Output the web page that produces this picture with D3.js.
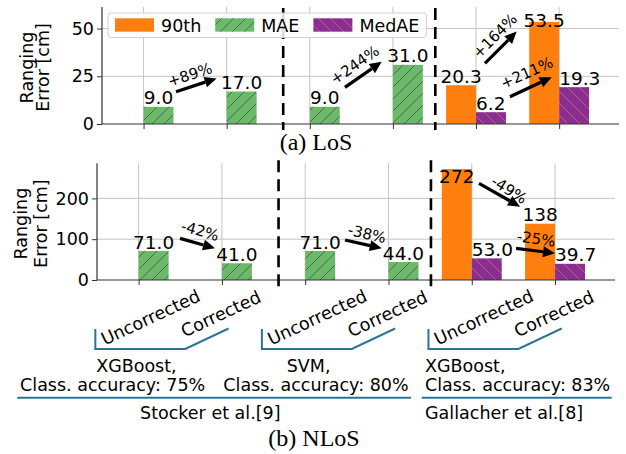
<!DOCTYPE html>
<html><head><meta charset="utf-8">
<script src="https://cdn.jsdelivr.net/npm/d3@7"></script>
<style>
body{margin:0;background:#fff;}
svg{display:block;font-family:"DejaVu Sans",sans-serif;}
</style>
</head><body><svg id="c" width="626" height="454"></svg>
<script>
// ---------- data ----------
const categories = ["Uncorrected","Corrected","Uncorrected","Corrected","Uncorrected","Corrected"];
const seriesNames = ["90th","MAE","MedAE"];
const los90    = [null,null,null,null,20.3,53.5];
const losMAE   = [9.0,17.0,9.0,31.0,null,null];
const losMedAE = [null,null,null,null,6.2,19.3];
const nlos90    = [null,null,null,null,272,138];
const nlosMAE   = [71.0,41.0,71.0,44.0,null,null];
const nlosMedAE = [null,null,null,null,53.0,39.7];
const losTicks = [0,25,50];
const nlosTicks = [0,100,200];
// change annotations (category units, value units)
const losChanges = [
  {text:"+89%",  from:[0.39,16.9], to:[0.879,23.9], at:[0.558,25.7], angle:-18},
  {text:"+244%", from:[2.423,19.2], to:[2.865,32.6], at:[2.543,30.9], angle:-35},
  {text:"+164%", from:[4.107,31.8], to:[4.489,48.4], at:[4.228,46.1], angle:-45},
  {text:"+211%", from:[4.408,14.3], to:[4.91,24.5], at:[4.612,26.7], angle:-24}
];
const nlosChanges = [
  {text:"-42%", from:[0.497,102], to:[0.917,77.7], at:[0.737,120], angle:16},
  {text:"-38%", from:[2.478,98], to:[2.919,77.7], at:[2.742,112.7], angle:13},
  {text:"-49%", from:[4.087,237], to:[4.58,179.7], at:[4.448,220.6], angle:32},
  {text:"-25%", from:[4.532,77.7], to:[5.0,65.4], at:[4.772,100.5], angle:8}
];
const separators = [1.68, 3.51];
const groups = [
  {first:0, second:1, model:"XGBoost,", acc:"Class. accuracy: 75%"},
  {first:2, second:3, model:"SVM,", acc:"Class. accuracy: 80%"},
  {first:4, second:5, model:"XGBoost,", acc:"Class. accuracy: 83%"}
];
const studies = ["Stocker et al.[9]","Gallacher et al.[8]"];

// ---------- styles ----------
const colors = {"90th":"#ff7f0e","MAE":"#6aba69","MedAE":"#8c2d96"};
const FONT = 17.5;

const svg = d3.select("#c");
const defs = svg.append("defs");
function hatch(id, bg, stroke, dir){
  const s = 12;
  const p = defs.append("pattern").attr("id",id).attr("patternUnits","userSpaceOnUse")
    .attr("width",s).attr("height",s);
  p.append("rect").attr("width",s).attr("height",s).attr("fill",bg);
  const d = dir==="/" ? `M-2,2 L2,-2 M0,${s} L${s},0 M${s-2},${s+2} L${s+2},${s-2}`
                      : `M-2,${s-2} L2,${s+2} M0,0 L${s},${s} M${s-2},-2 L${s+2},2`;
  p.append("path").attr("d",d).attr("stroke",stroke).attr("stroke-width",0.9).attr("fill","none");
}
hatch("hMAE", colors.MAE, "#4f5f4f", "/");
hatch("hMed", colors.MedAE, "#b8704e", "\\");
const fillOf = {"90th":colors["90th"], "MAE":"url(#hMAE)", "MedAE":"url(#hMed)"};
const offsetOf = {"90th":-1, "MAE":0, "MedAE":0};
const labelAnchor = {"90th":"middle", "MAE":"middle", "MedAE":"start"};

const fmt = v => v >= 100 ? d3.format(".0f")(v) : d3.format(".1f")(v);

function drawPanel(cfg){
  const g = svg.append("g");
  const x = d3.scaleLinear().domain([-0.5,5.72]).range([cfg.left, cfg.right]);
  const y = d3.scaleLinear().domain([0,cfg.ymax]).range([cfg.bottom, cfg.top]);
  const step = x(1)-x(0);
  const bw = step*0.36;
  // grid
  g.append("g").selectAll("line").data(categories.map((d,i)=>i)).join("line")
    .attr("x1",d=>x(d)).attr("x2",d=>x(d)).attr("y1",cfg.top).attr("y2",cfg.bottom)
    .attr("stroke","#c4c4c4").attr("stroke-width",1);
  g.append("g").selectAll("line").data(cfg.ticks.filter(t=>t>0)).join("line")
    .attr("x1",cfg.left).attr("x2",cfg.right).attr("y1",d=>y(d)).attr("y2",d=>y(d))
    .attr("stroke","#c4c4c4").attr("stroke-width",1);
  // bars
  const series = [["90th",cfg.s90],["MAE",cfg.sMAE],["MedAE",cfg.sMed]];
  const bars = [];
  series.forEach(([name,arr])=>arr.forEach((v,i)=>{ if(v!=null) bars.push({name,i,v}); }));
  g.append("g").selectAll("rect").data(bars).join("rect")
    .attr("x",d=>x(d.i)+offsetOf[d.name]*bw).attr("width",bw)
    .attr("y",d=>y(d.v)).attr("height",d=>y(0)-y(d.v))
    .attr("fill",d=>fillOf[d.name]);
  // value labels
  g.append("g").selectAll("text").data(bars).join("text")
    .attr("x",d=>x(d.i)+offsetOf[d.name]*bw+(labelAnchor[d.name]==="start"?0:bw/2))
    .attr("y",d=>Math.max(y(d.v)-2.5, cfg.top+20))
    .attr("text-anchor",d=>labelAnchor[d.name]).attr("font-size",18.5).attr("fill","#000")
    .text(d=>fmt(d.v));
  // axes
  const ya = d3.axisLeft(y).tickValues(cfg.ticks).tickSize(5).tickPadding(3).tickFormat(d3.format("d"));
  const yg = g.append("g").attr("transform",`translate(${cfg.left},0)`).call(ya);
  yg.select(".domain").remove();
  yg.selectAll("text").attr("font-size",FONT).attr("font-family","DejaVu Sans").attr("fill","#000");
  yg.selectAll("line").attr("stroke","#333");
  g.append("line").attr("x1",cfg.left).attr("x2",cfg.left).attr("y1",cfg.top).attr("y2",cfg.bottom).attr("stroke","#333").attr("stroke-width",1.2);
  const xa = d3.axisBottom(x).tickValues(categories.map((d,i)=>i)).tickSize(5).tickFormat("");
  const xg = g.append("g").attr("transform",`translate(0,${cfg.bottom})`).call(xa);
  xg.select(".domain").remove();
  xg.selectAll("line").attr("stroke","#333");
  g.append("line").attr("x1",cfg.left).attr("x2",cfg.right).attr("y1",cfg.bottom).attr("y2",cfg.bottom).attr("stroke","#333").attr("stroke-width",1.2);
  // separators
  g.append("g").selectAll("line").data(separators).join("line")
    .attr("x1",d=>x(d)).attr("x2",d=>x(d)).attr("y1",cfg.top+cfg.sepTop).attr("y2",cfg.bottom+cfg.sepBottom)
    .attr("stroke","#000").attr("stroke-width",2.6).attr("stroke-dasharray","12,7");
  // y label
  const yl = g.append("text").attr("transform",`translate(${cfg.ylabX},${(cfg.top+cfg.bottom)/2+2}) rotate(-90)`)
    .attr("text-anchor","middle").attr("font-size",FONT).attr("fill","#000");
  yl.append("tspan").attr("x",0).attr("dy",0).text("Ranging");
  yl.append("tspan").attr("x",0).attr("dy",cfg.ylabGap).text("Error [cm]");
  // change arrows
  cfg.changes.forEach(c=>{
    const x1=x(c.from[0]), y1=y(c.from[1]), x2=x(c.to[0]), y2=y(c.to[1]);
    const a=Math.atan2(y2-y1,x2-x1), hl=12, hw=5.5;
    const bx=x2-hl*Math.cos(a), by=y2-hl*Math.sin(a);
    g.append("line").attr("x1",x1).attr("y1",y1).attr("x2",bx).attr("y2",by)
      .attr("stroke","#000").attr("stroke-width",3.2);
    g.append("path").attr("d",`M${x2},${y2} L${bx-hw*Math.sin(a)},${by+hw*Math.cos(a)} L${bx+hw*Math.sin(a)},${by-hw*Math.cos(a)} Z`)
      .attr("fill","#000");
    g.append("text").attr("transform",`translate(${x(c.at[0])},${y(c.at[1])}) rotate(${c.angle})`)
      .attr("text-anchor","middle").attr("dominant-baseline","central")
      .attr("font-size",15).attr("fill","#000").text(c.text);
  });
  return {g,x,y,bw};
}

// ---------- LoS panel ----------
const losPanel = drawPanel({left:102,right:619,top:7,bottom:124,ymax:61.3,ticks:losTicks,
  s90:los90,sMAE:losMAE,sMed:losMedAE,changes:losChanges,sepTop:1,sepBottom:6,ylabX:33,ylabGap:15.5});
// legend
{
  const lg = losPanel.g.append("g");
  const box = lg.append("rect").attr("x",108).attr("y",13).attr("height",24.5).attr("rx",3)
    .attr("fill","#fff").attr("fill-opacity",0.85).attr("stroke","#cfcfcf");
  let cx = 115;
  seriesNames.forEach(n=>{
    lg.append("rect").attr("x",cx).attr("y",18.3).attr("width",39).attr("height",13.4).attr("fill",fillOf[n]);
    const t = lg.append("text").attr("x",cx+46).attr("y",31.6).attr("font-size",FONT).attr("fill","#000").text(n);
    cx = cx + 46 + t.node().getComputedTextLength() + 14;
  });
  box.attr("width", cx - 14 + 7 - 108);
}
svg.append("text").attr("x",316).attr("y",150).attr("text-anchor","middle")
  .attr("font-family","Liberation Serif, serif").attr("font-size",24).attr("fill","#000").text("(a) LoS");

// ---------- NLoS panel ----------
const nlosPanel = drawPanel({left:97,right:615,top:163.3,bottom:280,ymax:286,ticks:nlosTicks,
  s90:nlos90,sMAE:nlosMAE,sMed:nlosMedAE,changes:nlosChanges,sepTop:-3,sepBottom:10,ylabX:27,ylabGap:20});
{
  const x = nlosPanel.x, g = nlosPanel.g, base = 280;
  const teal = "#2a7597";
  // rotated tick labels
  categories.forEach((c,i)=>{
    const unc = c==="Uncorrected";
    g.append("text").attr("transform",`translate(${x(i)+(unc?12:-1)},${unc?317.5:314}) rotate(-25)`)
      .attr("text-anchor","middle").attr("dominant-baseline","central")
      .attr("font-size",FONT).attr("fill","#000").text(c);
  });
  // brackets
  g.append("g").selectAll("path").data(groups).join("path")
    .attr("d",d=>`M${x(d.first-0.52)},${base+49} V${base+69} H${x(d.second-0.44)} L${x(d.second+0.08)},${base+48.5}`)
    .attr("fill","none").attr("stroke",teal).attr("stroke-width",2);
  const modelX = [-0.51, 1.778, 3.439], accX = [-1.424, 1.017, 3.439];
  groups.forEach((d,k)=>{
    g.append("text").attr("x",x(modelX[k])).attr("y",371.5).attr("font-size",FONT).attr("fill","#000").text(d.model);
    g.append("text").attr("x",x(accX[k])).attr("y",391).attr("font-size",FONT).attr("fill","#000").text(d.acc);
  });
  g.append("line").attr("x1",x(-1.457)).attr("x2",x(3.271)).attr("y1",397.7).attr("y2",397.7).attr("stroke",teal).attr("stroke-width",2);
  g.append("line").attr("x1",x(3.399)).attr("x2",x(5.681)).attr("y1",397.7).attr("y2",397.7).attr("stroke",teal).attr("stroke-width",2);
  g.append("text").attr("x",x(0.017)).attr("y",419.3).attr("font-size",FONT).attr("fill","#000").text(studies[0]);
  g.append("text").attr("x",x(3.439)).attr("y",419.3).attr("font-size",FONT).attr("fill","#000").text(studies[1]);
}
svg.append("text").attr("x",314).attr("y",446).attr("text-anchor","middle")
  .attr("font-family","Liberation Serif, serif").attr("font-size",24).attr("fill","#000").text("(b) NLoS");
</script>
</body></html>
